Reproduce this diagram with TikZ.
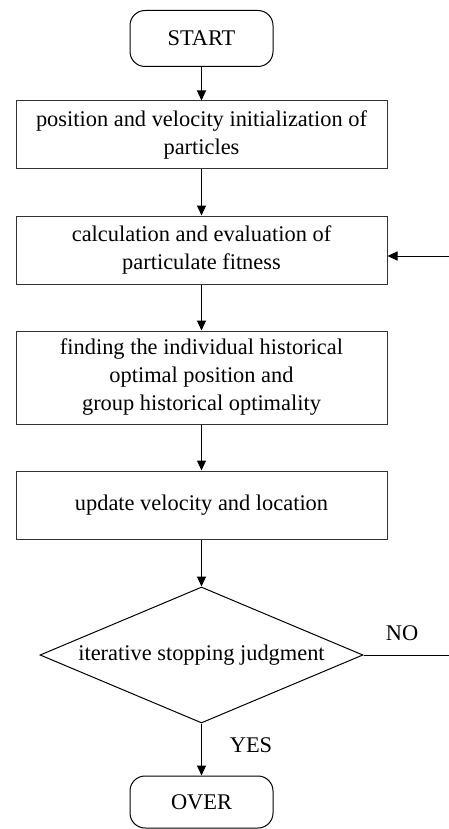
\documentclass[tikz,border=0pt]{standalone}
\usepackage{fontspec}
\setmainfont{Liberation Serif}
\usetikzlibrary{shapes.geometric,arrows.meta}
\tikzset{
  procbox/.style={draw=black!80,line width=1pt,minimum width=371pt,
    minimum height=68pt,align=center,inner sep=0pt},
  termbox/.style={draw=black,line width=1pt,rounded corners=15pt,
    minimum width=143pt,minimum height=56pt,inner sep=0pt},
  decide/.style={draw=black,line width=1pt,diamond,aspect=2.375,
    minimum width=323pt,minimum height=136pt,inner sep=0pt},
  flow/.style={line width=1pt,-{Triangle[length=10pt,width=9pt]}},
}
\begin{document}
\begin{tikzpicture}[x=1pt,y=-1pt,font=\fontsize{22.4}{28}\selectfont]
  \useasboundingbox (0,0) rectangle (449,829);% page frame

  \node[termbox] (start) at (201.5,38.5) {START};
  \node[procbox] (init) at (201.5,135) {position and velocity initialization of\\particles};
  \node[procbox] (fit) at (201.5,250) {calculation and evaluation of\\particulate fitness};
  \node[procbox,minimum height=93pt] (best) at (201.5,377.5)
    {finding the individual historical\\optimal position and\\group historical optimality};
  \node[procbox] (upd) at (201.5,505) {update velocity and location};
  \node[decide] (judge) at (201.5,655) {iterative stopping judgment};
  \node[termbox,minimum height=52pt] (over) at (201.5,802) {OVER};

  \coordinate (back) at (449,256);% loop comes in from the right
  \coordinate (noend) at (449,655);

  \draw[flow] (start) -- (init);
  \draw[flow] (init) -- (fit);
  \draw[flow] (fit) -- (best);
  \draw[flow] (best) -- (upd);
  \draw[flow] (upd) -- (judge);
  \draw[flow] (judge) -- (over);
  \draw[flow] (back) -- (back -| fit.east);
  \draw[line width=1pt] (judge.east) -- (noend);

  \node (no) at (402,633) {NO};
  \node (yes) at (251,745) {YES};
\end{tikzpicture}
\end{document}
